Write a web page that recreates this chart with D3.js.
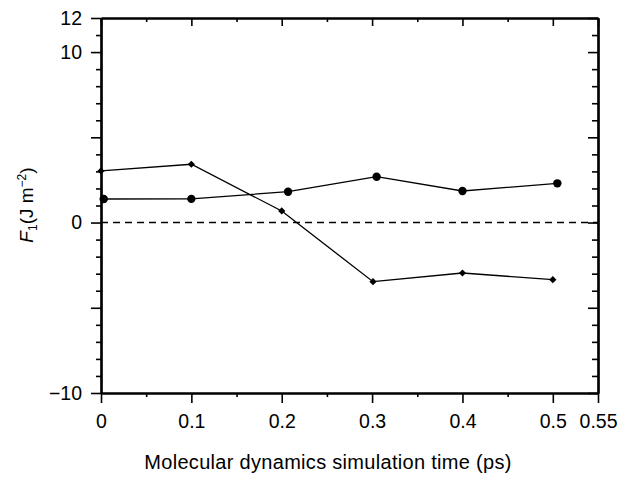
<!DOCTYPE html>
<html>
<head>
<meta charset="utf-8">
<script src="https://cdn.jsdelivr.net/npm/d3@7"></script>
<style>
  body { margin: 0; background: #fff; }
  text { font-family: "Liberation Sans", Arial, sans-serif; fill: #000; }
</style>
</head>
<body>
<div id="chart"></div>
<script>
// simulation time (ps) and F1 values
const timeCircle = [0.003, 0.1, 0.207, 0.305, 0.4, 0.505];
const fCircle = [1.38, 1.39, 1.81, 2.69, 1.85, 2.3];
const timeDiamond = [0, 0.1, 0.2, 0.301, 0.4, 0.5];
const fDiamond = [3.03, 3.42, 0.68, -3.47, -2.96, -3.35];

const xMajor = [0, 0.1, 0.2, 0.3, 0.4, 0.5, 0.55];
const xMinor = [0.05, 0.15, 0.25, 0.35, 0.45];
const yLabelled = [-10, 0, 10, 12];
const yMajor = [-10, -5, 0, 5, 10, 12];
const yMinor = d3.range(-9, 12).filter(v => v % 5 !== 0);

const width = 643, height = 482;
const x = d3.scaleLinear().domain([0, 0.55]).range([101, 598]);
const y = d3.scaleLinear().domain([-10, 12]).range([393, 18]);

const svg = d3.select("#chart").append("svg")
    .attr("width", width)
    .attr("height", height);

// zero reference line
svg.append("line")
    .attr("x1", x(0)).attr("x2", x(0.55))
    .attr("y1", y(0)).attr("y2", y(0))
    .attr("stroke", "#000")
    .attr("stroke-width", 1.4)
    .attr("stroke-dasharray", "7,5");

// axes: left/bottom ticks outward, top/right ticks inward
function styleAxis(g) {
  g.select(".domain").attr("stroke-width", 2.2);
  g.selectAll(".tick line").attr("stroke-width", 1.6);
  g.selectAll(".tick text").style("font-size", "19.5px");
}

const fmtY = d => yLabelled.includes(d) ? d3.format("")(d) : "";

svg.append("g").attr("transform", `translate(${x(0)},0)`)
    .call(d3.axisLeft(y).tickValues(yMajor).tickSize(10).tickSizeOuter(0).tickPadding(9).tickFormat(fmtY))
    .call(styleAxis);
svg.append("g").attr("transform", `translate(${x(0)},0)`)
    .call(d3.axisLeft(y).tickValues(yMinor).tickSize(5).tickSizeOuter(0).tickFormat(""))
    .call(styleAxis);

svg.append("g").attr("transform", `translate(${x(0.55)},0)`)
    .call(d3.axisLeft(y).tickValues(yMajor).tickSize(10).tickSizeOuter(0).tickFormat(""))
    .call(styleAxis);
svg.append("g").attr("transform", `translate(${x(0.55)},0)`)
    .call(d3.axisLeft(y).tickValues(yMinor).tickSize(6).tickSizeOuter(0).tickFormat(""))
    .call(styleAxis);

svg.append("g").attr("transform", `translate(0,${y(-10)})`)
    .call(d3.axisBottom(x).tickValues(xMajor).tickSize(10).tickSizeOuter(0).tickPadding(11).tickFormat(d => d3.format("")(d)))
    .call(styleAxis);
svg.append("g").attr("transform", `translate(0,${y(-10)})`)
    .call(d3.axisBottom(x).tickValues(xMinor).tickSize(4).tickSizeOuter(0).tickFormat(""))
    .call(styleAxis);

svg.append("g").attr("transform", `translate(0,${y(12)})`)
    .call(d3.axisBottom(x).tickValues(xMajor).tickSize(8).tickSizeOuter(0).tickFormat(""))
    .call(styleAxis);
svg.append("g").attr("transform", `translate(0,${y(12)})`)
    .call(d3.axisBottom(x).tickValues(xMinor).tickSize(4).tickSizeOuter(0).tickFormat(""))
    .call(styleAxis);

// series
const circles = timeCircle.map((t, i) => ({t, f: fCircle[i]}));
const diamonds = timeDiamond.map((t, i) => ({t, f: fDiamond[i]}));
const line = d3.line().x(d => x(d.t)).y(d => y(d.f));

svg.append("path").datum(circles)
    .attr("d", line).attr("fill", "none")
    .attr("stroke", "#000").attr("stroke-width", 1.3);
svg.append("path").datum(diamonds)
    .attr("d", line).attr("fill", "none")
    .attr("stroke", "#000").attr("stroke-width", 1.3);

svg.selectAll(".dot").data(circles).enter().append("circle")
    .attr("cx", d => x(d.t)).attr("cy", d => y(d.f))
    .attr("r", 4.2).attr("fill", "#000");

svg.selectAll(".dia").data(diamonds).enter().append("path")
    .attr("d", d3.symbol(d3.symbolSquare, 26))
    .attr("transform", d => `translate(${x(d.t)},${y(d.f)}) rotate(45)`)
    .attr("fill", "#000");

// axis titles
svg.append("text")
    .attr("x", 328).attr("y", 469)
    .attr("text-anchor", "middle")
    .style("font-size", "20px")
    .style("letter-spacing", "0.3px")
    .text("Molecular dynamics simulation time (ps)");

const yt = svg.append("text")
    .attr("transform", "translate(33,205) rotate(-90)")
    .attr("text-anchor", "middle")
    .style("font-size", "19px");
yt.append("tspan").style("font-style", "italic").text("F");
yt.append("tspan").attr("dy", 4).style("font-size", "12px").text("1");
yt.append("tspan").attr("dy", -4).text("(J m");
yt.append("tspan").attr("dy", -7).style("font-size", "12px").text("−2");
yt.append("tspan").attr("dy", 7).text(")");
</script>
</body>
</html>
